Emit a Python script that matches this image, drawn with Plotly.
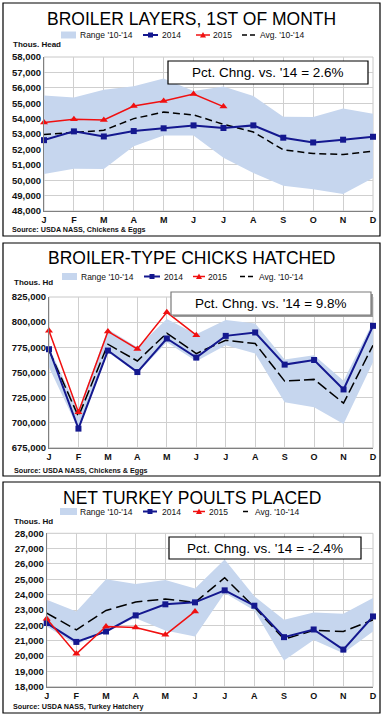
import plotly.graph_objects as go

W, H = 384, 720
FONT = "Liberation Sans, Arial, sans-serif"
NARROW = "Liberation Sans Narrow, Arial Narrow, sans-serif"

months = ["J", "F", "M", "A", "M", "J", "J", "A", "S", "O", "N", "D"]
xm = list(range(12))

# ---- Panel 1: Broiler layers, 1st of month (thous. head)
layers_2014 = [52600, 53170, 52840, 53190, 53370, 53560, 53390, 53560, 52760, 52450, 52630, 52820]
layers_2015 = [53740, 53960, 53910, 54820, 55150, 55590, 54780]
layers_avg = [52970, 53100, 53240, 54000, 54420, 54240, 53630, 53130, 51970, 51730, 51670, 51880]
layers_hi = [55500, 55370, 55870, 56100, 56600, 55800, 56080, 55470, 54120, 54100, 54650, 54320]
layers_lo = [50400, 50750, 50730, 52210, 52910, 52910, 51450, 50470, 49640, 49420, 49110, 50140]

# ---- Panel 2: Broiler-type chicks hatched (thous. hd)
hatch_2014 = [773000, 694000, 771700, 750300, 783700, 764700, 786300, 789700, 757700, 762300, 733000, 796300]
hatch_2015 = [791300, 710300, 790700, 773300, 809700, 787000]
hatch_avg = [772000, 706000, 778000, 761300, 789000, 768700, 782000, 778700, 741300, 743000, 719300, 777000]
hatch_hi = [775000, 712000, 793000, 775000, 803000, 788000, 802000, 798700, 762700, 767000, 741700, 800000]
hatch_lo = [755000, 693000, 770000, 749000, 780000, 761000, 777000, 768700, 720300, 715300, 698700, 760000]

# ---- Panel 3: Net turkey poults placed (thous. hd)
poults_2014 = [22150, 20920, 21600, 22650, 23370, 23500, 24280, 23280, 21230, 21730, 20420, 22580]
poults_2015 = [22430, 20140, 21930, 21860, 21380, 22910]
poults_avg = [22800, 21710, 22970, 23520, 23720, 23500, 25100, 23190, 21100, 21670, 21600, 22360]
poults_hi = [23670, 22910, 25000, 24700, 24950, 24400, 26300, 23900, 22360, 22840, 22760, 23780]
poults_lo = [21930, 20730, 21710, 22470, 21670, 21270, 24110, 22970, 19700, 21050, 20180, 21600]

titles = ["BROILER LAYERS, 1ST OF MONTH", "BROILER-TYPE CHICKS HATCHED", "NET TURKEY POULTS PLACED"]
units = ["Thous. Head", "Thous. Hd", "Thous. Hd"]
sources = ["Source: USDA NASS, Chickens & Eggs", "Source: USDA NASS, Chickens & Eggs",
           "Source: USDA NASS, Turkey Hatchery"]
pct_labels = ["Pct. Chng. vs. '14 = 2.6%", "Pct. Chng. vs. '14 = 9.8%", "Pct. Chng. vs. '14 = -2.4%"]
legend_labels = ["Range '10-'14", "2014", "2015", "Avg. '10-'14"]
yranges = [(48000, 58000, 1000), (675000, 825000, 25000), (18000, 28000, 1000)]

BAND = "#C6D6EE"
BLUE = "#14188F"
RED = "#F01010"

panels = [
    dict(lo=layers_lo, hi=layers_hi, avg=layers_avg, y14=layers_2014, y15=layers_2015,
         box=(3, 380, 3, 236), plot=(44, 373, 57, 211), dash="7px,4px",
         leg=dict(y=35, patch=(61, 76), t0=78, l14=(143, 158), t14=160, l15=(196, 210), t15=211,
                  lav=(242, 255), tav=258),
         unit_xy=(11, 44), src_xy=(10, 230), pct=(168, 368, 61, 84), shadow=False),
    dict(lo=hatch_lo, hi=hatch_hi, avg=hatch_avg, y14=hatch_2014, y15=hatch_2015,
         box=(3, 380, 243, 476), plot=(49, 373, 297, 447.7), dash="11px,4px",
         leg=dict(y=276.5, patch=(62, 77), t0=79, l14=(144, 160), t14=162, l15=(193, 205), t15=206,
                  lav=(240, 254), tav=257),
         unit_xy=(11.5, 283), src_xy=(12, 470), pct=(171, 371, 292, 315), shadow=True),
    dict(lo=poults_lo, hi=poults_hi, avg=poults_avg, y14=poults_2014, y15=poults_2015,
         box=(3, 380, 482, 713), plot=(46.7, 373, 533.3, 686.7), dash="11px,5px",
         leg=dict(y=511.5, patch=(60, 77), t0=78, l14=(143, 157), t14=160, l15=(193, 205), t15=207,
                  lav=(243, 250), tav=253),
         unit_xy=(11.5, 521.5), src_xy=(11, 706.5), pct=(169, 361, 537, 559), shadow=False),
]


def px(x):
    return x / W


def py(y):
    return 1 - y / H


fig = go.Figure()
shapes = []
annotations = []

for i, p in enumerate(panels):
    n = "" if i == 0 else str(i + 1)
    xa, ya = "x" + n, "y" + n
    # range band
    fig.add_trace(go.Scatter(x=xm, y=p["lo"], mode="lines", line=dict(width=0, color=BAND),
                             xaxis=xa, yaxis=ya, showlegend=False, hoverinfo="skip"))
    fig.add_trace(go.Scatter(x=xm, y=p["hi"], mode="lines", line=dict(width=0, color=BAND),
                             fill="tonexty", fillcolor=BAND, xaxis=xa, yaxis=ya,
                             showlegend=False, name=legend_labels[0]))
    # average
    fig.add_trace(go.Scatter(x=xm, y=p["avg"], mode="lines",
                             line=dict(color="#000000", width=1.5, dash=p["dash"]),
                             xaxis=xa, yaxis=ya, showlegend=False, name=legend_labels[3]))
    # 2014
    fig.add_trace(go.Scatter(x=xm, y=p["y14"], mode="lines+markers",
                             line=dict(color=BLUE, width=2),
                             marker=dict(symbol="square", size=6, color=BLUE),
                             xaxis=xa, yaxis=ya, showlegend=False, cliponaxis=False,
                             name=legend_labels[1]))
    # 2015
    fig.add_trace(go.Scatter(x=xm[:len(p["y15"])], y=p["y15"], mode="lines+markers",
                             line=dict(color=RED, width=1.5),
                             marker=dict(symbol="triangle-up", size=7, color=RED),
                             xaxis=xa, yaxis=ya, showlegend=False, cliponaxis=False,
                             name=legend_labels[2]))

    x0, x1, y0, y1 = p["plot"]
    lo, hi, dt = yranges[i]
    fig.layout["xaxis" + n] = dict(
        domain=[px(x0), px(x1)], anchor=ya, range=[0, 11], tickvals=xm, ticktext=months,
        showgrid=True, gridcolor="#CFCFCF", gridwidth=1, zeroline=False,
        showline=True, linecolor="#808080", linewidth=1, mirror=False, ticks="",
        automargin=False,
        tickfont=dict(family=FONT, size=9, color="#111", weight="bold"), fixedrange=True)
    fig.layout["yaxis" + n] = dict(
        domain=[py(y1), py(y0)], anchor=xa, range=[lo, hi], dtick=dt, tick0=lo,
        tickformat=",d", showgrid=True, gridcolor="#CFCFCF", gridwidth=1, zeroline=False,
        showline=True, linecolor="#808080", linewidth=1, ticks="", automargin=False,
        tickfont=dict(family=FONT, size=9.5, color="#111", weight="bold"), fixedrange=True)
    # right/top plot frame
    shapes.append(dict(type="rect", xref="paper", yref="paper", x0=px(x0), x1=px(x1),
                       y0=py(y1), y1=py(y0), line=dict(color="#C8C8C8", width=1), layer="below"))

    # panel border
    bx0, bx1, by0, by1 = p["box"]
    shapes.append(dict(type="rect", xref="paper", yref="paper", x0=px(bx0), x1=px(bx1),
                       y0=py(by1), y1=py(by0), line=dict(color="#000000", width=1.2)))

    # title
    annotations.append(dict(text=titles[i], xref="paper", yref="paper", x=px(191.5),
                            y=py(by0 + 15.5), xanchor="center", yanchor="middle", showarrow=False,
                            font=dict(family=NARROW, size=17.5, color="#000")))
    # units
    ux, uy = p["unit_xy"]
    annotations.append(dict(text=units[i], xref="paper", yref="paper", x=px(ux), y=py(uy),
                            xanchor="left", yanchor="middle", showarrow=False,
                            font=dict(family=FONT, size=8, color="#111", weight="bold")))
    # source
    sx, sy = p["src_xy"]
    annotations.append(dict(text=sources[i], xref="paper", yref="paper", x=px(sx), y=py(sy),
                            xanchor="left", yanchor="middle", showarrow=False,
                            font=dict(family=FONT, size=7.2, color="#111", weight="bold")))
    # pct change box
    qx0, qx1, qy0, qy1 = p["pct"]
    if p["shadow"]:
        shapes.append(dict(type="rect", xref="paper", yref="paper", x0=px(qx0 + 2), x1=px(qx1 + 2),
                           y0=py(qy1 + 2), y1=py(qy0 + 2), fillcolor="#9A9A9A",
                           line=dict(width=0)))
        bcol = "#7A7A7A"
    else:
        bcol = "#000000"
    shapes.append(dict(type="rect", xref="paper", yref="paper", x0=px(qx0), x1=px(qx1),
                       y0=py(qy1), y1=py(qy0), fillcolor="#FFFFFF", line=dict(color=bcol, width=1.2)))
    annotations.append(dict(text=pct_labels[i], xref="paper", yref="paper", x=px((qx0 + qx1) / 2),
                            y=py((qy0 + qy1) / 2), xanchor="center", yanchor="middle",
                            showarrow=False, font=dict(family=NARROW, size=13.5, color="#000")))

    # legend
    L = p["leg"]
    ly = L["y"]
    shapes.append(dict(type="rect", xref="paper", yref="paper", x0=px(L["patch"][0]),
                       x1=px(L["patch"][1]), y0=py(ly + 3.5), y1=py(ly - 3.5),
                       fillcolor=BAND, line=dict(width=0)))
    shapes.append(dict(type="line", xref="paper", yref="paper", x0=px(L["l14"][0]),
                       x1=px(L["l14"][1]), y0=py(ly), y1=py(ly), line=dict(color=BLUE, width=2)))
    mx = (L["l14"][0] + L["l14"][1]) / 2
    shapes.append(dict(type="rect", xref="paper", yref="paper", x0=px(mx - 2.5), x1=px(mx + 2.5),
                       y0=py(ly + 2.5), y1=py(ly - 2.5), fillcolor=BLUE, line=dict(width=0)))
    shapes.append(dict(type="line", xref="paper", yref="paper", x0=px(L["l15"][0]),
                       x1=px(L["l15"][1]), y0=py(ly), y1=py(ly), line=dict(color=RED, width=1.5)))
    mx = (L["l15"][0] + L["l15"][1]) / 2
    shapes.append(dict(type="path", xref="paper", yref="paper",
                       path="M {} {} L {} {} L {} {} Z".format(px(mx - 3), py(ly + 2.5), px(mx + 3),
                                                               py(ly + 2.5), px(mx), py(ly - 3)),
                       fillcolor=RED, line=dict(width=0)))
    shapes.append(dict(type="line", xref="paper", yref="paper", x0=px(L["lav"][0]),
                       x1=px(L["lav"][1]), y0=py(ly), y1=py(ly),
                       line=dict(color="#000", width=1.5, dash="5px,3px")))
    for lab, key in zip(legend_labels, ["t0", "t14", "t15", "tav"]):
        annotations.append(dict(text=lab, xref="paper", yref="paper", x=px(L[key]), y=py(ly),
                                xanchor="left", yanchor="middle", showarrow=False,
                                font=dict(family=FONT, size=8.5, color="#111")))

fig.update_layout(
    width=W, height=H, margin=dict(l=0, r=0, t=0, b=0, pad=0, autoexpand=False),
    paper_bgcolor="#FFFFFF", plot_bgcolor="#FFFFFF",
    showlegend=False, shapes=shapes, annotations=annotations,
    font=dict(family=FONT),
)

fig.write_html("out.html", config={"displayModeBar": False},
               post_script="document.body.style.margin='0px';document.body.style.overflow='hidden';")
